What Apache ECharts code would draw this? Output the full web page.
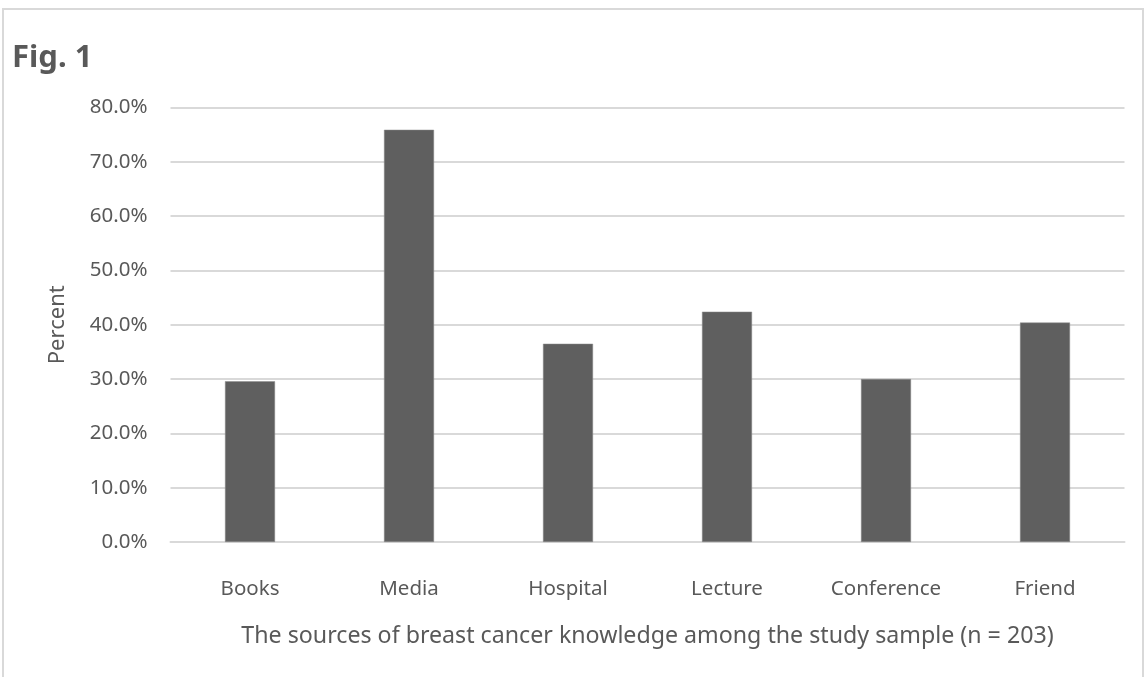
<!DOCTYPE html>
<html>
<head>
<meta charset="utf-8">
<script src="https://cdn.jsdelivr.net/npm/echarts@6/dist/echarts.min.js"></script>
<style>
  html, body { margin: 0; padding: 0; background: #ffffff; }
  #chart { width: 1146px; height: 677px; }
</style>
</head>
<body>
<div id="chart"></div>
<script>
// Sources of breast cancer knowledge (percent of respondents, n = 203)
const categories = ['Books', 'Media', 'Hospital', 'Lecture', 'Conference', 'Friend'];
const percentValues = [29.6, 75.9, 36.5, 42.4, 30.0, 40.4];
const yTicks = [0, 10, 20, 30, 40, 50, 60, 70, 80];

const FONT = '"Noto Sans", "Open Sans", sans-serif';
const TEXT = '#595959';
const GRID = '#d9d9d9';

const chart = echarts.init(document.getElementById('chart'), null, { renderer: 'canvas' });

chart.setOption({
  animation: false,
  backgroundColor: '#ffffff',
  graphic: [
    {
      type: 'rect',
      shape: { x: 3, y: 9, width: 1140, height: 700 },
      style: { fill: 'none', stroke: GRID, lineWidth: 2 },
      silent: true
    },
    {
      type: 'text',
      left: 12,
      top: 43,
      style: { text: 'Fig. 1', font: 'bold 31px ' + FONT, fill: TEXT }
    }
  ],
  grid: { left: 170.5, right: 21.5, top: 107.5, bottom: 135, containLabel: false },
  xAxis: {
    type: 'category',
    data: categories,
    name: 'The sources of breast cancer knowledge among the study sample (n = 203)',
    nameLocation: 'middle',
    nameGap: 83,
    nameTextStyle: { color: TEXT, fontFamily: FONT, fontSize: 23.2 },
    axisLine: { show: true, lineStyle: { color: GRID, width: 2 } },
    axisTick: { show: false },
    axisLabel: { color: TEXT, fontFamily: FONT, fontSize: 20.5, margin: 37 }
  },
  yAxis: {
    type: 'value',
    min: yTicks[0],
    max: yTicks[yTicks.length - 1],
    interval: 10,
    name: 'Percent',
    nameLocation: 'middle',
    nameGap: 102,
    nameRotate: 90,
    nameTextStyle: { color: TEXT, fontFamily: FONT, fontSize: 22 },
    axisLine: { show: false },
    axisTick: { show: false },
    splitLine: { lineStyle: { color: GRID, width: 2 } },
    axisLabel: {
      color: TEXT, fontFamily: FONT, fontSize: 20.5, margin: 23,
      formatter: v => v.toFixed(1) + '%'
    }
  },
  series: [{
    type: 'bar',
    data: percentValues,
    barWidth: 50,
    itemStyle: { color: '#5f5f5f', borderColor: '#8a8a8a', borderWidth: 0.5 }
  }]
});
</script>
</body>
</html>
